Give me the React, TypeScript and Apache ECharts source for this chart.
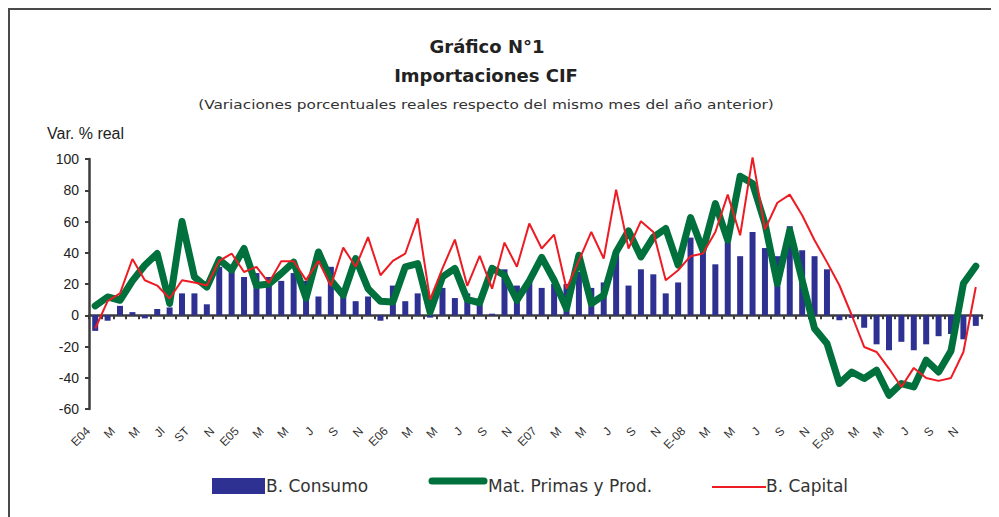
import React, { useEffect, useRef } from "react";
import * as echarts from "echarts";

const years = ["2004", "2005", "2006", "2007", "2008", "2009"];
const monthNums = ["01", "02", "03", "04", "05", "06", "07", "08", "09", "10", "11", "12"];
const categories: string[] = [];
years.forEach((y) => monthNums.forEach((m) => categories.push(`${y}-${m}`)));

const tickLabels = [
  "E04", "M", "M", "Jl", "ST", "N",
  "E05", "M", "M", "J", "S", "N",
  "E06", "M", "M", "J", "S", "N",
  "E07", "M", "M", "J", "S", "N",
  "E-08", "M", "M", "J", "S", "N",
  "E-09", "M", "M", "J", "S", "N",
];

const consumo = [
  -10, -3.5, 6, 2, -2, 4, 5, 14, 14, 7, 31, 29,
  24.5, 27, 24.5, 22, 27, 22, 12, 31, 17, 9, 12, -3.5,
  19, 9, 14, -1.5, 17.5, 11, 14, 10, 1, 29.4, 19, 22,
  17.5, 20, 20, 27.7, 17.5, 21, 40.5, 19, 29.4, 26.2, 14, 21,
  49.7, 41.6, 32.6, 47, 37.8, 53.3, 43, 37.8, 57, 41.6, 37.8, 29.4,
  -3.2, -1.7, -8, -18.6, -22.4, -17, -22.4, -18.6, -13.4, -12, -15.4, -6.8,
];

const matPrimas = [
  6, 11.7, 9.6, 22, 32, 39.5, 7.5, 60, 24.5, 18, 35.6, 29,
  42.7, 19, 20, 26.7, 34, 11, 40.5, 22.4, 12.8, 36.3, 17, 9,
  8.5, 31, 33, 2, 24.5, 30, 10, 8, 30, 25.6, 9.6, 22,
  37, 22.4, 4.3, 38.4, 7.5, 12.8, 40.5, 54, 37.3, 50, 55.5, 32,
  62.5, 41.6, 71.5, 48, 89, 84.3, 58.7, 20.3, 54.4, 22.4, -8.5, -18.1,
  -43.7, -36.3, -40.5, -35.2, -51.2, -43.7, -45.9, -28.8, -36.3, -22.8, 20.3, 31.4,
];

const capital = [
  -8.5, 9, 14, 36, 22.4, 19, 10.7, 22.4, 21, 19, 34.8, 39.5,
  27.7, 31, 20.7, 34.6, 34.6, 22.5, 34.8, 18.8, 43.3, 31, 50, 25.6,
  34.8, 39.5, 62, 10, 30, 48.4, 18.8, 38, 17, 46.5, 31, 58.7,
  42.7, 51.6, 17, 35, 53.3, 36.3, 80.4, 42.7, 60.2, 53.3, 22.4, 28.8,
  37.8, 39.5, 53.3, 77.2, 51.2, 101, 55, 72, 77.2, 64, 48, 34,
  19.2, 0, -20.3, -23.5, -34.1, -45.9, -33.7, -40.1, -42, -40.1, -23.5, 18.1,
];

const seriesNames = ["B. Consumo", "Mat. Primas y Prod.", "B. Capital"];
const colors = ["#2E3192", "#00703C", "#ED1C24"];

export default function App() {
  const ref = useRef<HTMLDivElement>(null);
  useEffect(() => {
    if (!ref.current) return;
    const chart = echarts.init(ref.current, null, { renderer: "svg" });
    const axisColor = "#3c3c3c";
    chart.setOption({
      animation: false,
      backgroundColor: "#ffffff",
      grid: { left: 81, right: 17, top: 151, bottom: 108 },
      xAxis: [
        {
          type: "category",
          data: categories,
          position: "bottom",
          axisLine: { show: true, onZero: true, lineStyle: { color: axisColor, width: 2.5 } },
          axisTick: { show: true, interval: 0, length: 4, lineStyle: { color: axisColor, width: 2 } },
          axisLabel: { show: false },
          splitLine: { show: false },
        },
        {
          type: "category",
          data: categories,
          position: "bottom",
          axisLine: { show: false, onZero: false },
          axisTick: { show: false },
          splitLine: { show: false },
          axisLabel: {
            interval: 1,
            rotate: 45,
            margin: 13,
            padding: [0, 10, 0, 0],
            fontSize: 12,
            fontFamily: "Liberation Sans",
            color: "#333333",
            formatter: (_v: string, i: number) => tickLabels[Math.floor(i / 2)] ?? "",
          },
        },
      ],
      yAxis: {
        type: "value",
        min: -60,
        max: 100,
        interval: 20,
        axisLine: { show: true, lineStyle: { color: axisColor, width: 2.5 } },
        axisTick: { show: true, length: 4, lineStyle: { color: axisColor, width: 2 } },
        splitLine: { show: false },
        axisLabel: {
          margin: 10,
          fontSize: 14,
          fontFamily: "Liberation Sans",
          color: "#222222",
        },
      },
      series: [
        {
          name: seriesNames[0],
          type: "bar",
          data: consumo,
          barWidth: 6,
          itemStyle: { color: colors[0] },
          z: 1,
        },
        {
          name: seriesNames[1],
          type: "line",
          data: matPrimas,
          symbol: "none",
          clip: false,
          lineStyle: { color: colors[1], width: 7, cap: "round", join: "round" },
          z: 3,
        },
        {
          name: seriesNames[2],
          type: "line",
          data: capital,
          symbol: "none",
          clip: false,
          lineStyle: { color: colors[2], width: 2 },
          z: 4,
        },
      ],
      graphic: [
        { type: "line", shape: { x1: 0, y1: 1, x2: 991, y2: 1 }, style: { stroke: "#4a4a4a", lineWidth: 2 } },
        { type: "line", shape: { x1: 1, y1: 0, x2: 1, y2: 509 }, style: { stroke: "#4a4a4a", lineWidth: 2 } },
        {
          type: "text", x: 479, y: 38,
          style: { text: "Gráfico N°1", fontFamily: "DejaVu Sans", fontWeight: "bold", fontSize: 18, fill: "#222", align: "center", verticalAlign: "middle" },
        },
        {
          type: "text", x: 478, y: 67,
          style: { text: "Importaciones CIF", fontFamily: "DejaVu Sans", fontWeight: "bold", fontSize: 18, fill: "#222", align: "center", verticalAlign: "middle" },
        },
        {
          type: "text", x: 478, y: 96, scaleX: 1.18,
          style: { text: "(Variaciones porcentuales reales respecto del mismo mes del año anterior)", fontFamily: "DejaVu Sans", fontSize: 13, fill: "#333", align: "center", verticalAlign: "middle" },
        },
        {
          type: "text", x: 39, y: 125,
          style: { text: "Var. % real", fontFamily: "Liberation Sans", fontSize: 16, fill: "#222", align: "left", verticalAlign: "middle" },
        },
        { type: "rect", shape: { x: 204, y: 470, width: 53, height: 16 }, style: { fill: colors[0] } },
        {
          type: "text", x: 258, y: 478,
          style: { text: seriesNames[0], fontFamily: "DejaVu Sans", fontSize: 17, fill: "#333", align: "left", verticalAlign: "middle" },
        },
        { type: "line", shape: { x1: 424, y1: 473, x2: 476, y2: 473 }, style: { stroke: colors[1], lineWidth: 7, lineCap: "round" } },
        {
          type: "text", x: 480, y: 478,
          style: { text: seriesNames[1], fontFamily: "DejaVu Sans", fontSize: 17, fill: "#333", align: "left", verticalAlign: "middle" },
        },
        { type: "line", shape: { x1: 704, y1: 479, x2: 758, y2: 479 }, style: { stroke: colors[2], lineWidth: 2 } },
        {
          type: "text", x: 758, y: 478,
          style: { text: seriesNames[2], fontFamily: "DejaVu Sans", fontSize: 17, fill: "#333", align: "left", verticalAlign: "middle" },
        },
      ],
    });
    return () => chart.dispose();
  }, []);
  return <div ref={ref} style={{ width: 991, height: 509 }} />;
}
